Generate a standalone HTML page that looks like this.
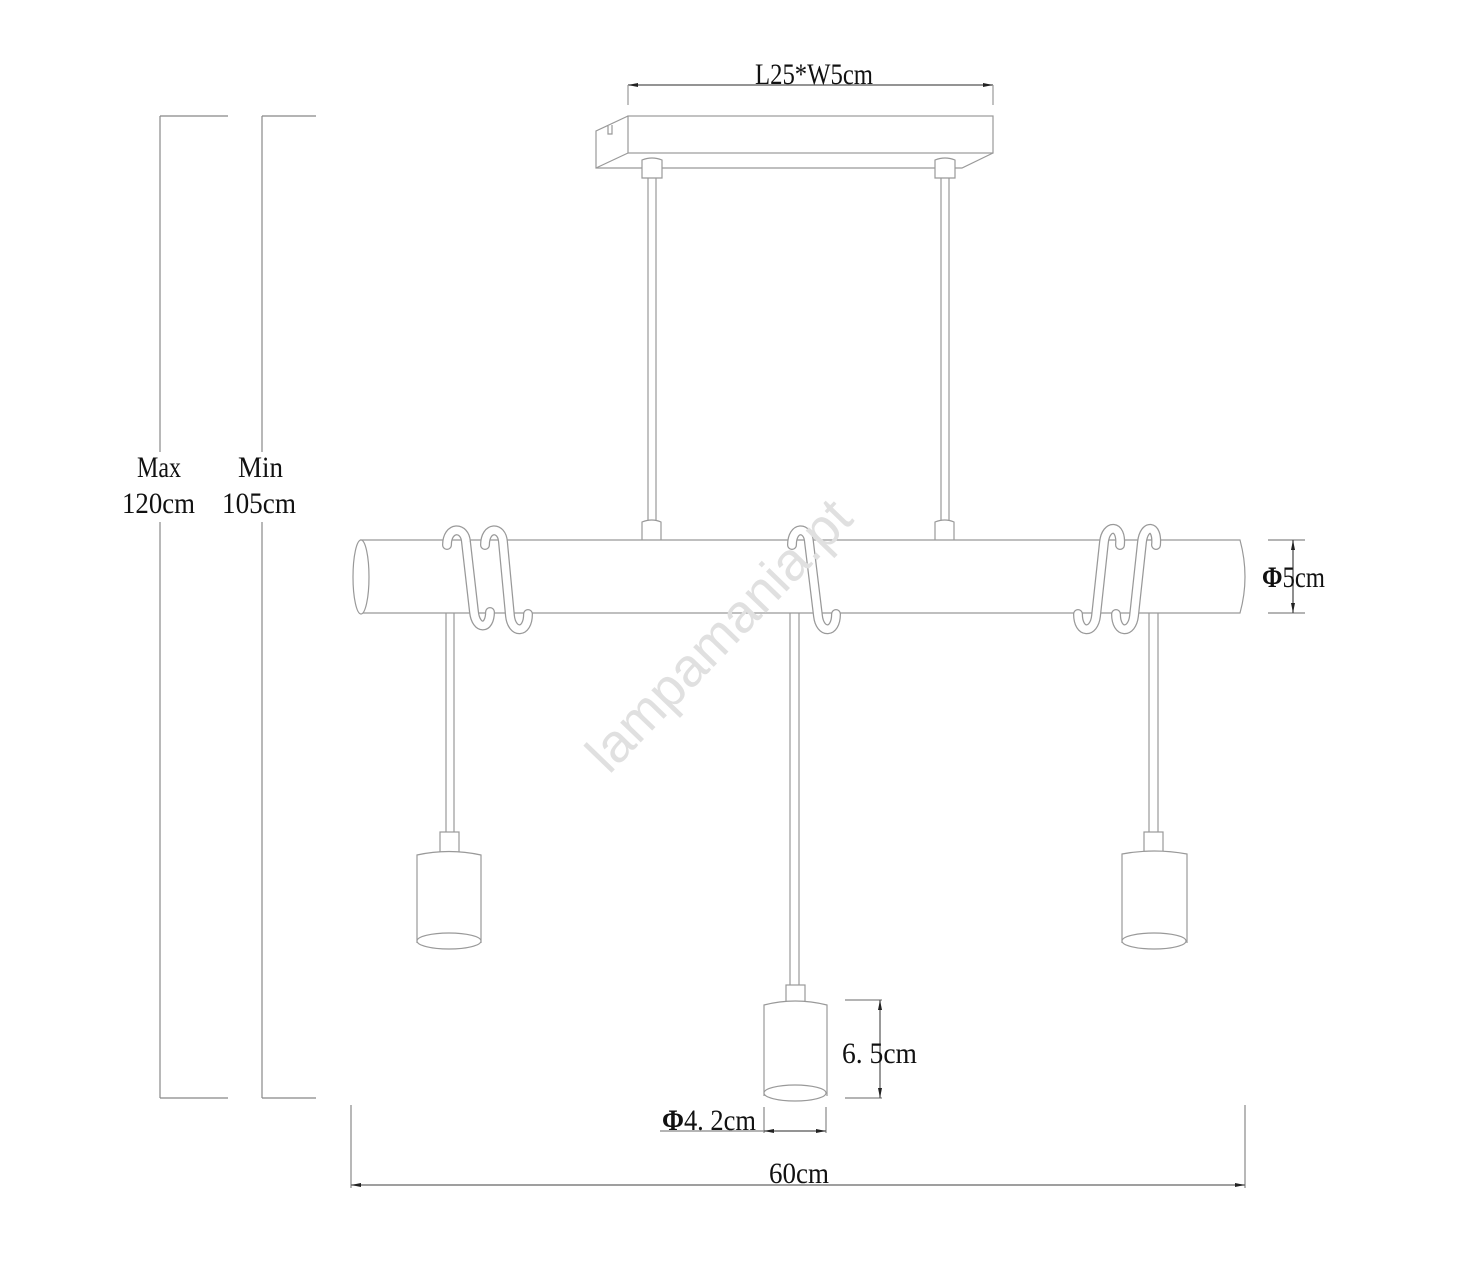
<!DOCTYPE html>
<html><head><meta charset="utf-8"><style>
html,body{margin:0;padding:0;background:#fff;}
svg{display:block;}
text{font-family:"Liberation Serif",serif;fill:#111;font-size:30px;}
</style></head><body>
<svg width="1459" height="1264" viewBox="0 0 1459 1264" xmlns="http://www.w3.org/2000/svg">
<defs>
<marker id="ar" viewBox="0 0 10 6" refX="10" refY="3" markerWidth="10" markerHeight="6" orient="auto-start-reverse" markerUnits="userSpaceOnUse"><path d="M0,1 L10,3 L0,5 z" fill="#222"/></marker>
</defs>
<g fill="none" stroke="#999" stroke-width="1.2">
<line x1="628" y1="85" x2="993" y2="85" marker-start="url(#ar)" marker-end="url(#ar)" stroke="#555"/>
<line x1="628" y1="85" x2="628" y2="105"/>
<line x1="993" y1="85" x2="993" y2="105"/>
<rect x="628" y="116" width="365" height="37" fill="#fff"/>
<path d="M628,116 L596,131 L596,168 L962,168 L993,153"/>
<path d="M628,153 L596,168"/>
<path d="M608,126 L608,134 L612,134 L612,125"/>
<line x1="648" y1="178" x2="648" y2="520"/><line x1="656" y1="178" x2="656" y2="520"/>
<line x1="941" y1="178" x2="941" y2="520"/><line x1="949" y1="178" x2="949" y2="520"/>
<path d="M642,178 L642,160 Q652,156 662,160 L662,178 Z" fill="#fff"/>
<path d="M935,178 L935,160 Q945,156 955,160 L955,178 Z" fill="#fff"/>
<path d="M642,540 L642,522 Q652,518 661,522 L661,540"/>
<path d="M935,540 L935,522 Q945,518 954,522 L954,540"/>
<path d="M360,540 L1240,540 Q1250,577 1240,613 L360,613"/>
<ellipse cx="361" cy="577" rx="8" ry="37" fill="#fff"/>
<line x1="446" y1="613" x2="446" y2="832"/><line x1="454" y1="613" x2="454" y2="832"/>
<line x1="790" y1="613" x2="790" y2="985"/><line x1="799" y1="613" x2="799" y2="985"/>
<line x1="1149" y1="613" x2="1149" y2="832"/><line x1="1158" y1="613" x2="1158" y2="832"/>
</g>
<g fill="none" stroke-linecap="round">
<g stroke="#999" stroke-width="10">
<path d="M447,545 C447,526 465,526 466,542 L474,612 C476,630 490,630 490,612"/>
<path d="M485,545 C485,526 502,526 503,542 L510,616 C512,634 528,634 528,614"/>
<path d="M792,545 C792,526 808,526 809,542 L818,616 C820,634 836,634 836,614"/>
<path d="M1078,614 C1078,634 1094,634 1096,616 L1104,542 C1106,524 1122,524 1120,545"/>
<path d="M1116,614 C1116,634 1132,634 1134,616 L1142,542 C1144,524 1158,524 1156,545"/>
</g>
<g stroke="#fff" stroke-width="7.5">
<path d="M447,545 C447,526 465,526 466,542 L474,612 C476,630 490,630 490,612"/>
<path d="M485,545 C485,526 502,526 503,542 L510,616 C512,634 528,634 528,614"/>
<path d="M792,545 C792,526 808,526 809,542 L818,616 C820,634 836,634 836,614"/>
<path d="M1078,614 C1078,634 1094,634 1096,616 L1104,542 C1106,524 1122,524 1120,545"/>
<path d="M1116,614 C1116,634 1132,634 1134,616 L1142,542 C1144,524 1158,524 1156,545"/>
</g>
</g>
<g fill="#fff" stroke="#999" stroke-width="1.2">
<rect x="440" y="832" width="19" height="21"/>
<path d="M417,943 L417,855 Q449,848 481,855 L481,943"/>
<ellipse cx="449" cy="941" rx="32" ry="8"/>
<rect x="786" y="985" width="19" height="17"/>
<path d="M764,1096 L764,1005 Q795,997 827,1005 L827,1096"/>
<ellipse cx="795" cy="1093" rx="31" ry="8"/>
<rect x="1144" y="832" width="19" height="20"/>
<path d="M1122,943 L1122,854 Q1154,848 1187,854 L1187,943"/>
<ellipse cx="1154" cy="941" rx="32" ry="8"/>
</g>
<g fill="none" stroke="#888" stroke-width="1.2">
<line x1="160" y1="116" x2="228" y2="116"/><line x1="160" y1="1098" x2="228" y2="1098"/>
<line x1="160" y1="116" x2="160" y2="452"/><line x1="160" y1="522" x2="160" y2="1098"/>
<line x1="262" y1="116" x2="316" y2="116"/><line x1="262" y1="1098" x2="316" y2="1098"/>
<line x1="262" y1="116" x2="262" y2="452"/><line x1="262" y1="522" x2="262" y2="1098"/>
<line x1="1268" y1="540" x2="1305" y2="540"/><line x1="1268" y1="613" x2="1305" y2="613"/>
<line x1="1293" y1="540" x2="1293" y2="613" stroke="#444" marker-start="url(#ar)" marker-end="url(#ar)"/>
<line x1="845" y1="1000" x2="882" y2="1000"/><line x1="845" y1="1098" x2="882" y2="1098"/>
<line x1="880" y1="1000" x2="880" y2="1098" stroke="#555" marker-start="url(#ar)" marker-end="url(#ar)"/>
<line x1="764" y1="1107" x2="764" y2="1133"/><line x1="826" y1="1107" x2="826" y2="1133"/>
<line x1="660" y1="1131" x2="764" y2="1131"/>
<line x1="764" y1="1131" x2="826" y2="1131" stroke="#555" marker-start="url(#ar)" marker-end="url(#ar)"/>
<line x1="351" y1="1105" x2="351" y2="1188"/><line x1="1245" y1="1105" x2="1245" y2="1188"/>
<line x1="351" y1="1185" x2="1245" y2="1185" stroke="#666" marker-start="url(#ar)" marker-end="url(#ar)"/>
</g>
<text x="755" y="84" textLength="118" lengthAdjust="spacingAndGlyphs">L25*W5cm</text>
<text x="137" y="477" textLength="44" lengthAdjust="spacingAndGlyphs">Max</text>
<text x="122" y="513" textLength="73" lengthAdjust="spacingAndGlyphs">120cm</text>
<text x="238" y="477" textLength="45" lengthAdjust="spacingAndGlyphs">Min</text>
<text x="222" y="513" textLength="74" lengthAdjust="spacingAndGlyphs">105cm</text>
<text x="1262" y="587" textLength="63" lengthAdjust="spacingAndGlyphs"><tspan font-weight="bold">Φ</tspan>5cm</text>
<text x="842" y="1063" textLength="75" lengthAdjust="spacingAndGlyphs">6. 5cm</text>
<text x="662" y="1130" textLength="94" lengthAdjust="spacingAndGlyphs"><tspan font-weight="bold">Φ</tspan>4. 2cm</text>
<text x="769" y="1183" textLength="60" lengthAdjust="spacingAndGlyphs">60cm</text>
<text x="0" y="0" transform="translate(732,648) rotate(-46)" text-anchor="middle" style="font-family:'Liberation Sans',sans-serif;font-size:54px;fill:#e0e0e0;">lampamania.pt</text>
</svg>
</body></html>
